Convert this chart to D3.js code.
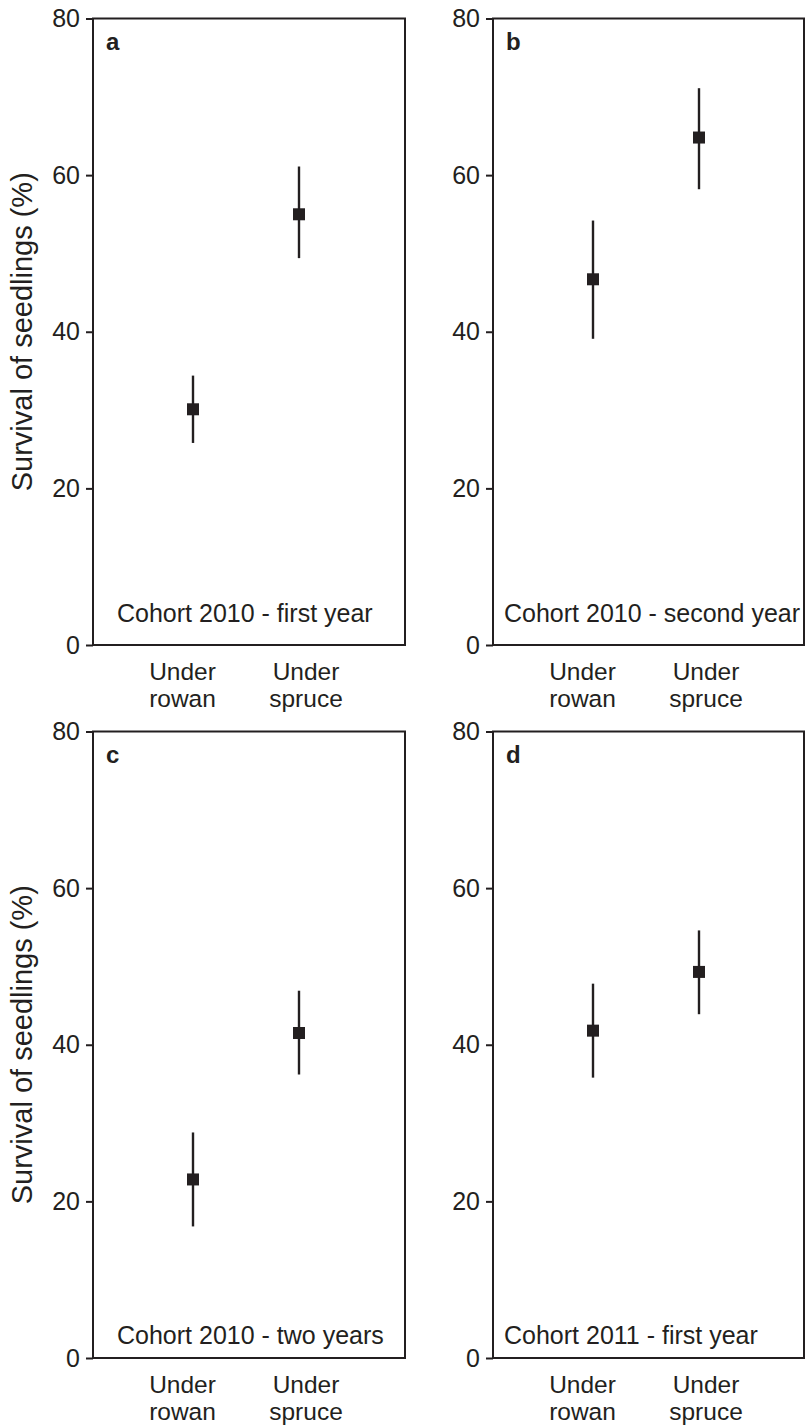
<!DOCTYPE html>
<html>
<head>
<meta charset="utf-8">
<script src="https://cdn.jsdelivr.net/npm/d3@7"></script>
<style>
  html, body { margin: 0; padding: 0; background: #fff; }
  svg { display: block; }
  text { font-family: "Liberation Sans", Arial, Helvetica, sans-serif; fill: #231f20; }
</style>
</head>
<body>
<svg id="chart" width="806" height="1425"></svg>
<script>
// ---- data ----
const categories = ["Under rowan", "Under spruce"];
const panelLetters = ["a", "b", "c", "d"];
const panelTitles = ["Cohort 2010 - first year", "Cohort 2010 - second year", "Cohort 2010 - two years", "Cohort 2011 - first year"];
const meanValues = [[30.1, 55.0], [46.7, 64.8], [22.8, 41.5], [41.8, 49.3]];
const lowerValues = [[25.8, 49.4], [39.1, 58.2], [16.8, 36.2], [35.8, 43.9]];
const upperValues = [[34.4, 61.1], [54.2, 71.1], [28.8, 46.9], [47.8, 54.6]];
const yTicks = [0, 20, 40, 60, 80];
const yLabel = "Survival of seedlings (%)";

// ---- layout ----
const ink = "#231f20";
const W = 312, H = 626.5;
const origins = [[93, 18.5], [493, 18.5], [93, 731.5], [493, 731.5]];
const titleBaseline = [603, 603, 612, 612];
const titleX = [24, 11, 24, 11];
const labelOffsets = [-10.5, 7];

const svg = d3.select("#chart");
const x = d3.scaleLinear().domain([0, 3]).range([-6, W]);
const y = d3.scaleLinear().domain([0, 80]).range([H, 0]);

origins.forEach(([ox, oy], p) => {
  const g = svg.append("g").attr("transform", `translate(${ox},${oy})`);

  // y axis
  const ax = g.append("g").call(d3.axisLeft(y).tickValues(yTicks).tickSize(7).tickPadding(6));
  ax.select(".domain").remove();
  ax.selectAll(".tick line").attr("stroke", ink).attr("stroke-width", 2);
  ax.selectAll(".tick text").attr("font-size", 25).attr("fill", ink)
    .attr("font-family", '"Liberation Sans", Arial, sans-serif');

  // frame
  g.append("rect").attr("x", 0).attr("y", 0).attr("width", p % 2 ? W - 1 : W).attr("height", H)
    .attr("fill", "none").attr("stroke", ink).attr("stroke-width", 2);

  // panel letter
  g.append("text").attr("x", 13).attr("y", 31).attr("font-size", 24).attr("font-weight", "bold").text(panelLetters[p]);

  // title
  g.append("text").attr("x", titleX[p]).attr("y", titleBaseline[p]).attr("font-size", 25).text(panelTitles[p]);

  // error bars
  categories.forEach((c, i) => {
    const cx = x(i + 1);
    g.append("line").attr("x1", cx).attr("x2", cx)
      .attr("y1", y(lowerValues[p][i])).attr("y2", y(upperValues[p][i]))
      .attr("stroke", ink).attr("stroke-width", 2.4);
    g.append("rect").attr("x", cx - 6).attr("y", y(meanValues[p][i]) - 6)
      .attr("width", 12).attr("height", 12).attr("fill", ink);

    // category labels
    const words = c.split(" ");
    const t = g.append("text").attr("text-anchor", "middle").attr("font-size", 24.5)
      .attr("x", cx + labelOffsets[i]).attr("y", H + 35);
    words.forEach((w, k) => {
      t.append("tspan").attr("x", cx + labelOffsets[i]).attr("dy", k === 0 ? 0 : 27).text(w);
    });
  });

  // y label (left panels)
  if (p % 2 === 0) {
    svg.append("text").attr("font-size", 29).attr("text-anchor", "middle")
      .attr("transform", `translate(32,${oy + H / 2}) rotate(-90)`).text(yLabel);
  }
});
</script>
</body>
</html>
